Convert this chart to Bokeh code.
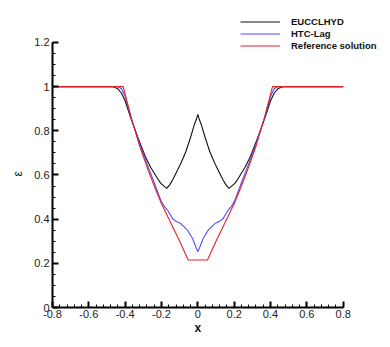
from bokeh.plotting import figure
from bokeh.models import (Range1d, FixedTicker, CustomJSTickFormatter, Legend, LegendItem, Title)
from bokeh.embed import file_html
from bokeh.resources import INLINE

# ---- data ----
ref_x = [-0.8, -0.411, -0.365, -0.32, -0.277, -0.24, -0.2, -0.15, -0.1, -0.053,
         0.053, 0.1, 0.15, 0.2, 0.24, 0.277, 0.32, 0.365, 0.411, 0.8]
ref_y = [1.0, 1.0, 0.855, 0.73, 0.63, 0.55, 0.47, 0.385, 0.3, 0.215,
         0.215, 0.3, 0.385, 0.47, 0.55, 0.63, 0.73, 0.855, 1.0, 1.0]

htc_x = [-0.8, -0.44, -0.42, -0.40, -0.37, -0.32, -0.28, -0.24, -0.204, -0.185, -0.167,
         -0.139, -0.12, -0.094, -0.057, -0.029, -0.011, 0.0,
         0.011, 0.029, 0.057, 0.094, 0.12, 0.139, 0.167, 0.185, 0.204, 0.24, 0.28, 0.32,
         0.37, 0.40, 0.42, 0.44, 0.8]
htc_y = [1.0, 1.0, 0.99, 0.955, 0.865, 0.74, 0.65, 0.565, 0.486, 0.458, 0.441,
         0.403, 0.39, 0.38, 0.35, 0.312, 0.274, 0.252,
         0.274, 0.312, 0.35, 0.38, 0.39, 0.403, 0.441, 0.458, 0.486, 0.565, 0.65, 0.74,
         0.865, 0.955, 0.99, 1.0, 1.0]

euc_x = [-0.8, -0.47, -0.44, -0.42, -0.40, -0.37, -0.33, -0.29, -0.26, -0.222, -0.204,
         -0.171, -0.155, -0.139, -0.121, -0.094, -0.066, -0.039, -0.02, -0.008, 0.0,
         0.008, 0.02, 0.039, 0.066, 0.094, 0.121, 0.139, 0.155, 0.171, 0.204, 0.222,
         0.26, 0.29, 0.33, 0.37, 0.40, 0.42, 0.44, 0.47, 0.8]
euc_y = [1.0, 1.0, 0.99, 0.97, 0.935, 0.86, 0.77, 0.685, 0.635, 0.584, 0.562,
         0.539, 0.555, 0.577, 0.607, 0.652, 0.705, 0.773, 0.826, 0.852, 0.874,
         0.852, 0.826, 0.773, 0.705, 0.652, 0.607, 0.577, 0.555, 0.539, 0.562, 0.584,
         0.635, 0.685, 0.77, 0.86, 0.935, 0.97, 0.99, 1.0, 1.0]

x_major = [-0.8, -0.6, -0.4, -0.2, 0.0, 0.2, 0.4, 0.6, 0.8]
x_minor = [round(-0.8 + 0.04 * i, 2) for i in range(41)]
y_major = [0.0, 0.2, 0.4, 0.6, 0.8, 1.0, 1.2]
y_minor = [round(0.05 * i, 2) for i in range(25)]

series_names = ["EUCCLHYD", "HTC-Lag", "Reference solution"]
series_colors = ["#111111", "#4a4aff", "#e8202a"]
x_title = "x"
y_title = "ε"

FONT = "Liberation Sans"

# frame extends beyond the axes' extent so the legend (drawn above/right of the
# data area, as in the reference) is not clipped; axes are bounded to the data range
p = figure(width=390, height=347, output_backend="svg", toolbar_location=None,
           x_range=Range1d(-0.8, 1.0), y_range=Range1d(0, 1.34),
           min_border_left=52, min_border_right=11, min_border_top=11,
           min_border_bottom=40)
p.outline_line_color = None
p.grid.visible = False
p.background_fill_color = "white"
p.border_fill_color = "white"

r1 = p.line(euc_x, euc_y, line_color=series_colors[0], line_width=1.1)
r2 = p.line(htc_x, htc_y, line_color=series_colors[1], line_width=1.1)
r3 = p.line(ref_x, ref_y, line_color=series_colors[2], line_width=1.1)

fmt = CustomJSTickFormatter(code="""
var s = (Math.abs(tick) < 1e-9 ? 0 : tick).toFixed(1);
if (s.endsWith('.0')) { s = s.slice(0, -2); }
return s;
""")

for ax, maj, mn, bnd in ((p.xaxis[0], x_major, x_minor, (-0.8, 0.8)),
                         (p.yaxis[0], y_major, y_minor, (0.0, 1.2))):
    ax.ticker = FixedTicker(ticks=maj, minor_ticks=mn)
    ax.formatter = fmt
    ax.bounds = bnd
    ax.axis_line_width = 2
    ax.axis_line_color = "black"
    ax.major_tick_in = 6
    ax.major_tick_out = 0
    ax.minor_tick_in = 3
    ax.minor_tick_out = 0
    ax.major_tick_line_width = 2
    ax.minor_tick_line_width = 1
    ax.major_tick_line_color = "black"
    ax.minor_tick_line_color = "black"
    ax.major_label_text_font = FONT
    ax.major_label_text_font_size = "11px"
    ax.major_label_text_color = "#222222"

p.xaxis.major_label_standoff = 2
p.yaxis.major_label_standoff = 3

# axis titles centred on the bounded axes (not on the enlarged frame)
xt = Title(text=x_title, align="left", offset=142, standoff=0, vertical_align="top",
           text_font=FONT, text_font_style="bold", text_font_size="12px",
           text_color="#111111")
p.add_layout(xt, "below")
yt = Title(text=y_title, align="left", offset=131, standoff=14,
           text_font=FONT, text_font_style="normal", text_font_size="12px",
           text_color="#111111")
p.add_layout(yt, "left")

legend = Legend(items=[LegendItem(label=series_names[0], renderers=[r1]),
                       LegendItem(label=series_names[1], renderers=[r2]),
                       LegendItem(label=series_names[2], renderers=[r3])],
                location=(188, 256))
legend.border_line_color = None
legend.background_fill_alpha = 0
legend.padding = 0
legend.margin = 0
legend.spacing = 1
legend.glyph_width = 40
legend.glyph_height = 11
legend.label_height = 11
legend.label_standoff = 11
legend.label_text_font = FONT
legend.label_text_font_style = "bold"
legend.label_text_font_size = "9.5px"
legend.label_text_color = "#111111"
p.add_layout(legend, "center")

open("out.html", "w").write(file_html(p, INLINE))
